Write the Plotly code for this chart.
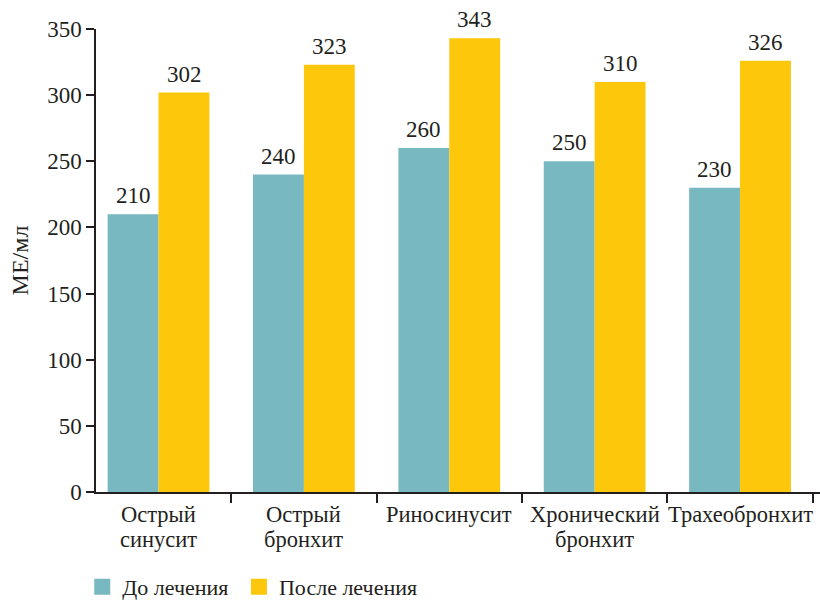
import plotly.graph_objects as go

categories = ["Острый<br>синусит", "Острый<br>бронхит", "Риносинусит",
              "Хронический<br>бронхит", "Трахеобронхит"]
before = [210, 240, 260, 250, 230]
after = [302, 323, 343, 310, 326]
series_names = ["До лечения", "После лечения"]
y_ticks = [0, 50, 100, 150, 200, 250, 300, 350]

TEAL = "#78B8C0"
YELLOW = "#FDC70C"
INK = "#231F20"
FONT = "'Liberation Serif', 'Times New Roman', serif"

fig = go.Figure()
for name, vals, col in [(series_names[0], before, TEAL), (series_names[1], after, YELLOW)]:
    fig.add_trace(go.Bar(x=categories, y=vals, name=name, marker=dict(color=col, line=dict(width=0)),
                         showlegend=False))
    # legend entry with a larger square swatch
    fig.add_trace(go.Scatter(x=[None], y=[None], mode="markers", name=name + " ",
                             marker=dict(symbol="square", size=16, color=col)))

# value labels above each bar
for vals, shift in [(before, -25.5), (after, 25.5)]:
    for c, v in zip(categories, vals):
        fig.add_annotation(x=c, y=v, text=str(v), showarrow=False, xshift=shift,
                           yanchor="bottom", yshift=4, font=dict(family=FONT, size=23, color=INK))

# category labels, one annotation per line for tight leading
for c in categories:
    for i, line in enumerate(c.split("<br>")):
        fig.add_annotation(x=c, xref="x", y=0, yref="paper", text=line, showarrow=False,
                           yanchor="middle", yshift=-22 - 25 * i,
                           font=dict(family=FONT, size=22.5, color=INK))

fig.update_layout(
    width=820, height=602,
    margin=dict(l=96, r=0, t=29, b=110, autoexpand=False),
    paper_bgcolor="white", plot_bgcolor="white",
    barmode="group", bargap=0.30, bargroupgap=0,
    font=dict(family=FONT, size=22, color=INK),
    legend=dict(orientation="h", x=-0.019, xanchor="left", y=-0.205, yanchor="middle",
                font=dict(family=FONT, size=22, color=INK), itemsizing="trace",
                itemwidth=30, tracegroupgap=0),
)
fig.update_xaxes(
    type="category", range=[-0.43, 4.55], showline=True, linecolor=INK, linewidth=1.5,
    ticks="outside", tickson="boundaries", ticklen=9, tickcolor=INK, tickwidth=1.5,
    showgrid=False, automargin=False, showticklabels=False,
)
fig.update_yaxes(
    range=[0, 350], tickvals=y_ticks, showline=True, linecolor=INK, linewidth=1.5,
    ticks="outside", ticklen=8, tickcolor=INK, tickwidth=1.5, showgrid=False, zeroline=False,
    automargin=False, tickfont=dict(family=FONT, size=23, color=INK),
    title=dict(text="МЕ/мл", font=dict(family=FONT, size=24, color=INK), standoff=12),
)

fig.write_html("out.html")
